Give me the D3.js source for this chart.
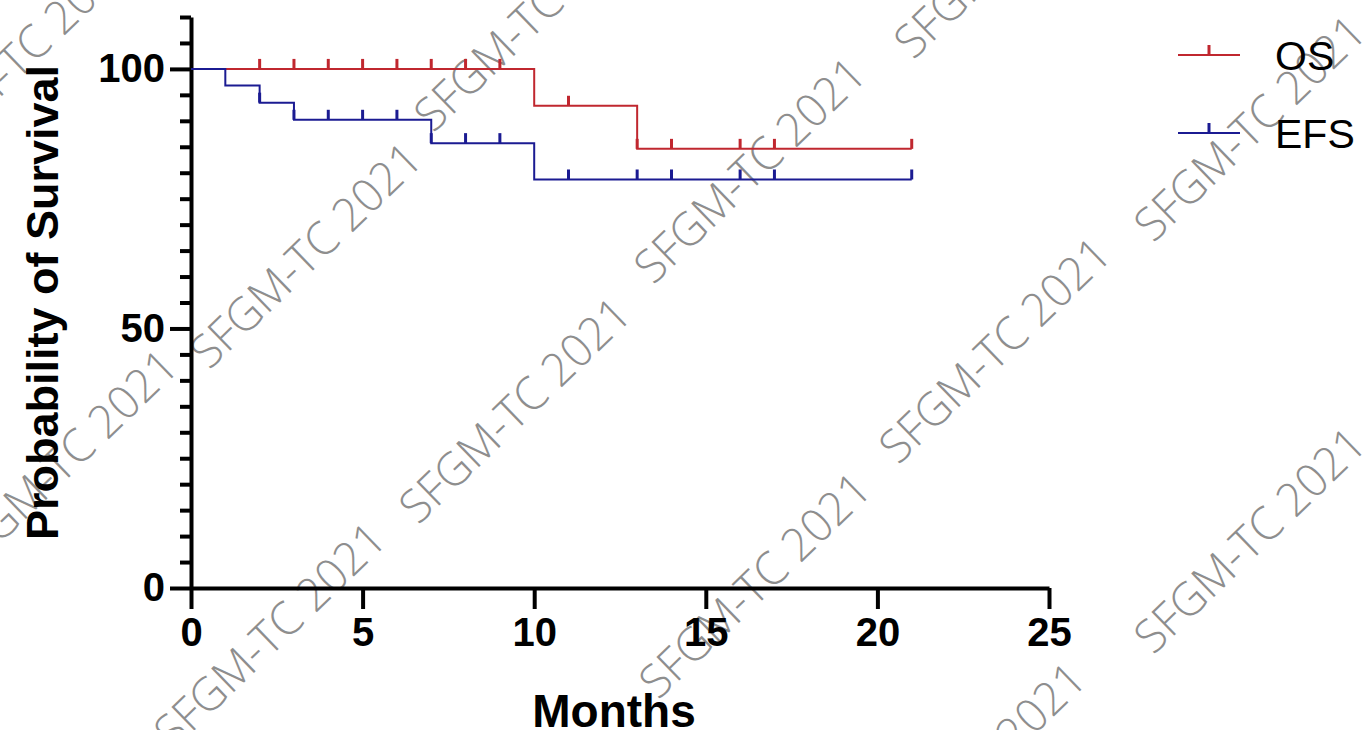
<!DOCTYPE html>
<html>
<head>
<meta charset="utf-8">
<script src="https://cdn.jsdelivr.net/npm/d3@7"></script>
<style>
  body { margin: 0; background: #fff; }
  .axis text { font-family: "Liberation Sans", Arial, sans-serif; font-weight: bold; fill: #000; }
</style>
</head>
<body>
<div class="chart"></div>
<script>
var svgWidth = 1365;
var svgHeight = 730;

// Kaplan-Meier steps (months, % survival)
var osTimes = [0, 10, 13, 21];
var osSurv = [100, 92.9, 84.6, 84.6];
var osCensor = [2, 3, 4, 5, 6, 7, 8, 9, 11, 13, 14, 16, 17, 21];

var efsTimes = [0, 1, 2, 3, 7, 10, 21];
var efsSurv = [100, 96.8, 93.5, 90.2, 85.7, 78.7, 78.7];
var efsCensor = [2, 3, 4, 5, 6, 7, 8, 9, 11, 13, 14, 16, 17, 21];

var seriesNames = ['OS', 'EFS'];
var seriesColors = ['#c0272f', '#1b1b92'];

var xTicks = [0, 5, 10, 15, 20, 25];
var yTicks = d3.range(0, 111, 5);
var yLabels = [0, 50, 100];

var watermark = 'SFGM-TC 2021';
var markCenters = [
  [18, 58], [530, 18], [1010, -55],
  [306, 255], [750, 170], [1250, 128],
  [62, 462], [515, 410], [995, 350],
  [270, 635], [755, 585], [1250, 540],
  [970, 775]
];

var svg = d3.select('.chart')
  .append('svg')
  .attr('width', svgWidth)
  .attr('height', svgHeight);

var x = d3.scaleLinear().domain([0, 25]).range([191, 1049]);
var y = d3.scaleLinear().domain([0, 110]).range([588, 17]);

// watermarks go underneath everything
var marks = svg.append('g');
marks.selectAll('text')
  .data(markCenters)
  .enter()
  .append('text')
  .attr('transform', function(d) { return 'translate(' + d[0] + ',' + d[1] + ') rotate(-44)'; })
  .attr('text-anchor', 'middle')
  .attr('dy', '0.35em')
  .attr('textLength', 300)
  .attr('lengthAdjust', 'spacingAndGlyphs')
  .style('font-family', '"Open Sans", "Liberation Sans Narrow", sans-serif')
  .style('font-weight', 300)
  .style('font-size', '46px')
  .style('fill', '#8e8e8e')
  .text(watermark);

// y axis
var yAxis = svg.append('g')
  .attr('class', 'axis')
  .attr('transform', 'translate(' + x(0) + ',0)')
  .call(d3.axisLeft(y)
    .tickValues(yTicks)
    .tickSizeOuter(0)
    .tickFormat(function(d) { return yLabels.indexOf(d) >= 0 ? d : ''; }));
yAxis.select('.domain').attr('stroke-width', 4);
yAxis.selectAll('.tick line')
  .attr('stroke-width', 4)
  .attr('x2', function(d) { return yLabels.indexOf(d) >= 0 ? -21 : -11; });
yAxis.selectAll('.tick text')
  .attr('x', -26)
  .style('font-size', '40px');

// x axis
var xAxis = svg.append('g')
  .attr('class', 'axis')
  .attr('transform', 'translate(0,' + y(0) + ')')
  .call(d3.axisBottom(x).tickValues(xTicks).tickSize(21).tickSizeOuter(0));
xAxis.select('.domain').attr('stroke-width', 4);
xAxis.selectAll('.tick line').attr('stroke-width', 4);
xAxis.selectAll('.tick text')
  .attr('y', 30)
  .style('font-size', '40px');

svg.append('text')
  .attr('transform', 'translate(58,' + (y(55)) + ') rotate(-90)')
  .attr('text-anchor', 'middle')
  .style('font-family', '"Liberation Sans", Arial, sans-serif')
  .style('font-weight', 'bold')
  .style('font-size', '45px')
  .text('Probability of Survival');

svg.append('text')
  .attr('x', x(12.5) - 6)
  .attr('y', 727)
  .attr('text-anchor', 'middle')
  .style('font-family', '"Liberation Sans", Arial, sans-serif')
  .style('font-weight', 'bold')
  .style('font-size', '46px')
  .text('Months');

// survival value at time t (after any drop at t)
function survAt(times, surv, t) {
  var i = d3.bisectRight(times, t) - 1;
  return surv[Math.max(i, 0)];
}

var stepLine = d3.line()
  .x(function(d) { return x(d[0]); })
  .y(function(d) { return y(d[1]); })
  .curve(d3.curveStepAfter);

var series = [
  { times: osTimes, surv: osSurv, censor: osCensor },
  { times: efsTimes, surv: efsSurv, censor: efsCensor }
];

series.forEach(function(s, k) {
  var pts = s.times.map(function(t, i) { return [t, s.surv[i]]; });
  svg.append('path')
    .attr('d', stepLine(pts))
    .attr('fill', 'none')
    .attr('stroke', seriesColors[k])
    .attr('stroke-width', 2);

  svg.append('g')
    .selectAll('line')
    .data(s.censor)
    .enter()
    .append('line')
    .attr('x1', function(d) { return x(d); })
    .attr('x2', function(d) { return x(d); })
    .attr('y1', function(d) { return y(survAt(s.times, s.surv, d)); })
    .attr('y2', function(d) { return y(survAt(s.times, s.surv, d)) - 10; })
    .attr('stroke', seriesColors[k])
    .attr('stroke-width', 3);
});

// legend
var legendY = [55, 133];
var legend = svg.append('g');
seriesNames.forEach(function(name, k) {
  var ly = legendY[k];
  legend.append('line')
    .attr('x1', 1178).attr('x2', 1240)
    .attr('y1', ly).attr('y2', ly)
    .attr('stroke', seriesColors[k])
    .attr('stroke-width', 2);
  legend.append('line')
    .attr('x1', 1209).attr('x2', 1209)
    .attr('y1', ly).attr('y2', ly - 10)
    .attr('stroke', seriesColors[k])
    .attr('stroke-width', 3);
  legend.append('text')
    .attr('x', 1275)
    .attr('y', ly)
    .attr('dy', '0.36em')
    .style('font-family', '"Liberation Sans", Arial, sans-serif')
    .style('font-size', '41px')
    .text(name);
});
</script>
</body>
</html>
